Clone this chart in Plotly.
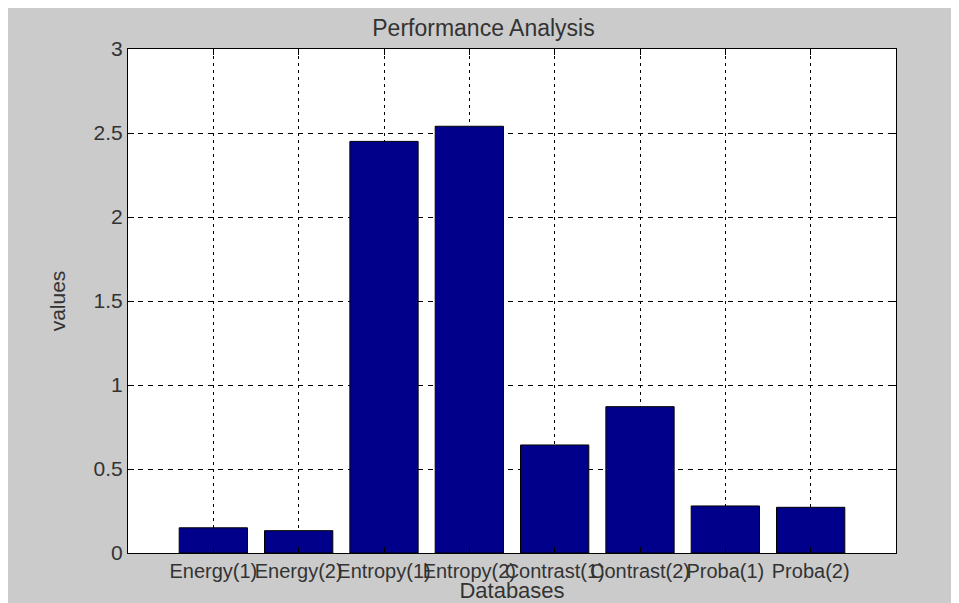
import plotly.graph_objects as go

categories = ["Energy(1)", "Energy(2)", "Entropy(1)", "Entropy(2)",
              "Contrast(1)", "Contrast(2)", "Proba(1)", "Proba(2)"]
positions = [1, 2, 3, 4, 5, 6, 7, 8]
values = [0.15, 0.133, 2.45, 2.54, 0.643, 0.871, 0.28, 0.272]
y_ticks = [0, 0.5, 1, 1.5, 2, 2.5, 3]

# page has an 8px body margin; the figure sits at (8, 8)
W, H = 951, 595
L, R, T, B = 120, 63, 41, 50

fig = go.Figure(go.Bar(
    x=positions, y=values, width=0.8,
    marker=dict(color="#00008a", line=dict(color="#000000", width=1)),
    showlegend=False,
))

font_col = "#333333"
fig.update_layout(
    width=W, height=H,
    margin=dict(l=L, r=R, t=T, b=B, pad=0, autoexpand=False),
    paper_bgcolor="#cbcbcb",
    plot_bgcolor="#ffffff",
    font=dict(family="Liberation Sans, Arial, sans-serif", size=21, color=font_col),
    title=dict(text="Performance Analysis", x=0.5, xanchor="center",
               y=1 - 20 / H, yanchor="middle",
               font=dict(size=23, color=font_col)),
)

fig.update_xaxes(
    range=[0, 9], tickmode="array", tickvals=positions, ticktext=categories,
    showline=True, linecolor="#000000", linewidth=1, mirror="ticks",
    ticks="inside", ticklen=6, tickcolor="#000000",
    showgrid=True, gridcolor="#000000", gridwidth=1, griddash="3px,4px",
    zeroline=False, tickangle=0, automargin=False,
    tickfont=dict(size=20, color=font_col),
    title=dict(text="Databases", standoff=0, font=dict(size=22, color=font_col)),
)
fig.update_yaxes(
    range=[0, 3], tickmode="array", tickvals=y_ticks,
    ticktext=["0", "0.5", "1", "1.5", "2", "2.5", "3"],
    showline=True, linecolor="#000000", linewidth=1, mirror="ticks",
    ticks="inside", ticklen=6, tickcolor="#000000",
    showgrid=True, gridcolor="#000000", gridwidth=1, griddash="5px,5px",
    zeroline=False, automargin=False,
    tickfont=dict(size=21, color=font_col),
    title=dict(text="values", standoff=22, font=dict(size=21, color=font_col)),
)

fig.write_html("out.html")
